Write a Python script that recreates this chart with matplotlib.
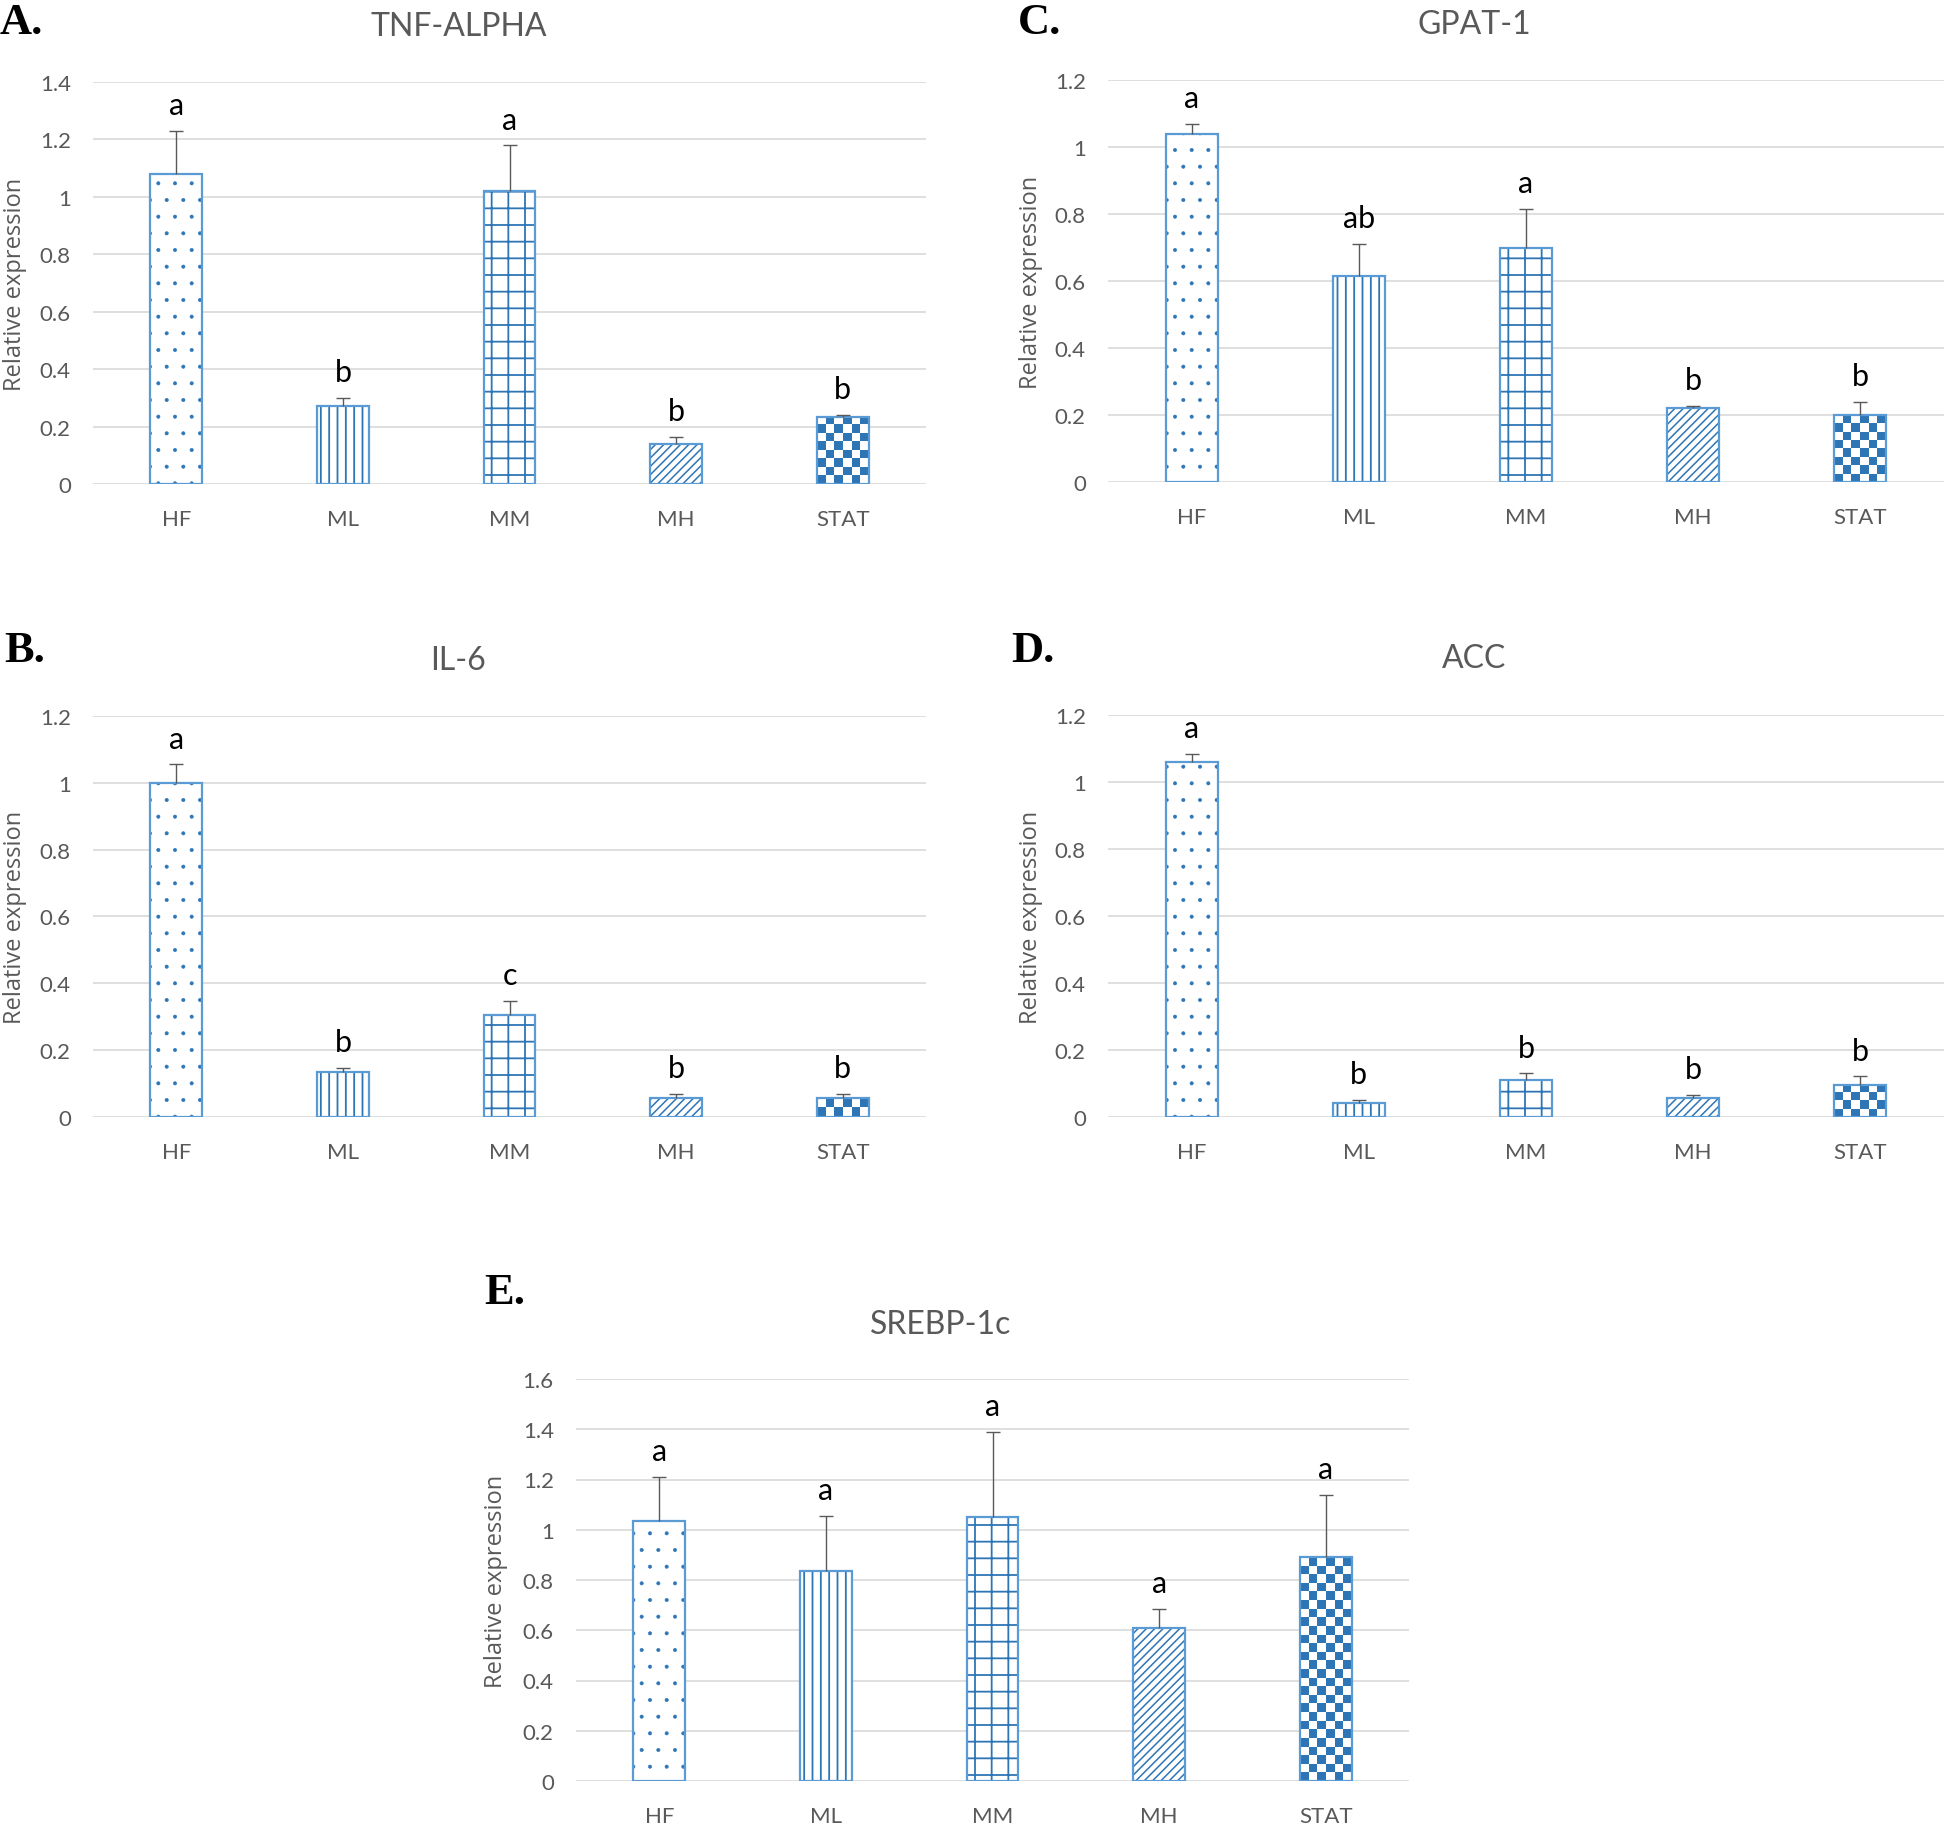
import numpy as np
import matplotlib
matplotlib.use("Agg")
import matplotlib.pyplot as plt
from matplotlib.colors import ListedColormap

# ---------------- data ----------------
groups = ["HF", "ML", "MM", "MH", "STAT"]

tnf_mean = [1.08, 0.27, 1.02, 0.14, 0.235]
tnf_err = [0.15, 0.03, 0.16, 0.025, 0.005]
tnf_letters = ["a", "b", "a", "b", "b"]

il6_mean = [1.00, 0.135, 0.305, 0.057, 0.057]
il6_err = [0.055, 0.013, 0.042, 0.013, 0.013]
il6_letters = ["a", "b", "c", "b", "b"]

gpat_mean = [1.04, 0.615, 0.70, 0.22, 0.20]
gpat_err = [0.03, 0.095, 0.115, 0.007, 0.04]
gpat_letters = ["a", "ab", "a", "b", "b"]

acc_mean = [1.06, 0.042, 0.11, 0.058, 0.097]
acc_err = [0.025, 0.009, 0.02, 0.009, 0.024]
acc_letters = ["a", "b", "b", "b", "b"]

srebp_mean = [1.035, 0.835, 1.05, 0.61, 0.89]
srebp_err = [0.175, 0.22, 0.34, 0.075, 0.25]
srebp_letters = ["a", "a", "a", "a", "a"]

# ---------------- style ----------------
W, H = 1946, 1824
DPI = 100
EDGE = "#5B9BD5"
PAT = "#2E75B6"
GRID = "#D9D9D9"
TXT = "#595959"
ERRC = "#595959"
hatches = [".", "||", "+", "////", None]
hatch_lw = [0.4, 1.3, 1.3, 1.1, 1.0]

plt.rcParams["font.family"] = ["Lato", "DejaVu Sans"]

fig = plt.figure(figsize=(W / DPI, H / DPI), dpi=DPI)
fig.patch.set_facecolor("white")


def px_axes(x0, x1, y_top, y_bot):
    return [x0 / W, 1 - y_bot / H, (x1 - x0) / W, (y_bot - y_top) / H]


def draw_checker(ax, patch, xc, w, top, ymax, ax_w_px, ax_h_px):
    px_x = ax_w_px / len(groups)
    px_y = ax_h_px / ymax
    bw_px = w * px_x
    nx = max(1, int(round(bw_px / 9.0)))
    sq = bw_px / nx
    ny = max(1, int(round(top * px_y / sq)))
    arr = np.indices((ny, nx)).sum(axis=0) % 2
    cmap = ListedColormap(["white", PAT])
    im = ax.imshow(arr, cmap=cmap, interpolation="nearest", aspect="auto",
                   extent=(xc - w / 2, xc + w / 2, 0, top), zorder=2, vmin=0, vmax=1)
    im.set_clip_path(patch)


def panel(rect, means, errs, letters, ymax, step, title, title_xy, label, label_xy, ylab_x):
    ax = fig.add_axes(px_axes(*rect))
    ax_w_px = rect[1] - rect[0]
    ax_h_px = rect[3] - rect[2]
    x = np.arange(len(groups))
    w = 0.31
    for i in range(len(groups)):
        m, e = means[i], errs[i]
        if hatches[i] is not None:
            with plt.rc_context({"hatch.linewidth": hatch_lw[i]}):
                ax.bar(x[i], m, width=w, facecolor="white", edgecolor=PAT, linewidth=0,
                       hatch=hatches[i], zorder=2)
        else:
            base = ax.bar(x[i], m, width=w, facecolor="white", edgecolor="none", zorder=2)
            draw_checker(ax, base.patches[0], x[i], w, m, ymax, ax_w_px, ax_h_px)
        ax.bar(x[i], m, width=w, fill=False, edgecolor=EDGE, linewidth=1.6, zorder=3)
        ax.vlines(x[i], m, m + e, color=ERRC, linewidth=1.0, zorder=4)
        ax.plot([x[i]], [m + e], marker="_", markersize=9.5, markeredgewidth=1.0,
                color=ERRC, zorder=4)
        ax.annotate(letters[i], xy=(x[i], m + e), xytext=(0, 12), textcoords="offset points",
                    ha="center", va="baseline", fontsize=22, color="black", zorder=5)
    ax.set_xlim(-0.5, len(groups) - 0.5)
    ax.set_ylim(0, ymax)
    ticks = np.arange(0, ymax + 1e-9, step)
    ax.set_yticks(ticks)
    ax.set_yticklabels([("%g" % t) for t in ticks])
    ax.set_xticks(x)
    ax.set_xticklabels(groups)
    ax.tick_params(axis="both", length=0, labelsize=16, labelcolor=TXT)
    ax.tick_params(axis="y", pad=16)
    ax.tick_params(axis="x", pad=18)
    for s in ax.spines.values():
        s.set_visible(False)
    ax.yaxis.grid(True, color=GRID, linewidth=1.2)
    ax.set_axisbelow(True)
    fig.text(title_xy[0] / W, 1 - title_xy[1] / H, title, ha="center", va="center",
             fontsize=23, color=TXT)
    fig.text(label_xy[0] / W, 1 - label_xy[1] / H, label, ha="left", va="center",
             fontsize=32, fontweight="bold", family=["Liberation Serif", "DejaVu Serif"],
             color="black")
    yc = (rect[2] + rect[3]) / 2
    fig.text(ylab_x / W, 1 - yc / H, "Relative expression", rotation=90, ha="center",
             va="center", fontsize=17, color=TXT, family=["Open Sans", "DejaVu Sans"])
    return ax


panel((93, 926, 83, 485), tnf_mean, tnf_err, tnf_letters, 1.4, 0.2,
      "TNF-ALPHA", (459, 27), "A.", (0, 23), 15)
panel((1108, 1944, 81, 483), gpat_mean, gpat_err, gpat_letters, 1.2, 0.2,
      "GPAT-1", (1474, 25), "C.", (1018, 23), 1031)
panel((93, 926, 717, 1118), il6_mean, il6_err, il6_letters, 1.2, 0.2,
      "IL-6", (458, 661), "B.", (4, 651), 15)
panel((1108, 1944, 716, 1118), acc_mean, acc_err, acc_letters, 1.2, 0.2,
      "ACC", (1474, 659), "D.", (1011, 651), 1031)
panel((576, 1409, 1380, 1782), srebp_mean, srebp_err, srebp_letters, 1.6, 0.2,
      "SREBP-1c", (941, 1325), "E.", (484, 1293), 496)

fig.savefig("out.png", dpi=DPI, facecolor="white")
